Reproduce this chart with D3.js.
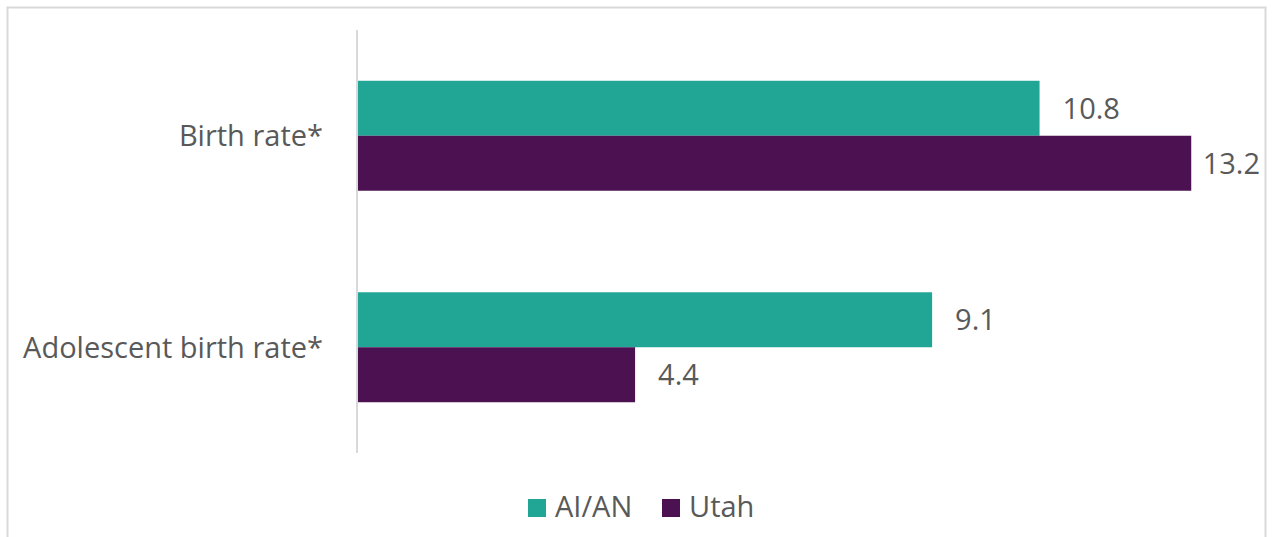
<!DOCTYPE html>
<html><head><meta charset="utf-8">
<script src="https://cdn.jsdelivr.net/npm/d3@7"></script>
<style>html,body{margin:0;padding:0;background:#fff;}svg{display:block;}</style>
</head><body>
<svg id="chart" width="1272" height="537"></svg>
<script>
const categories = ["Birth rate*", "Adolescent birth rate*"];
const seriesNames = ["AI/AN", "Utah"];
const aianValues = [10.8, 9.1];
const utahValues = [13.2, 4.4];
const seriesColors = ["#21A696", "#4B1150"];

const W = 1272, H = 537;
const svg = d3.select("#chart");
const font = "'Open Sans', sans-serif";
const textColor = "#595959";

// outer border (bottom edge lies outside the view)
svg.append("path")
  .attr("d", `M7.5,${H+2} V7.5 H1265.5 V${H+2}`)
  .attr("fill", "none").attr("stroke", "#d9d9d9").attr("stroke-width", 2);

const x = d3.scaleLinear().domain([0, 14]).range([357, 357 + 14 * 63.2]);
const y0 = d3.scaleBand().domain(categories).range([30, 453]).paddingInner(0.48).paddingOuter(0.24);
const y1 = d3.scaleBand().domain(seriesNames).range([0, y0.bandwidth()]);

const rows = categories.map((c, i) => ({cat: c, vals: [aianValues[i], utahValues[i]]}));

const g = svg.append("g");
rows.forEach(r => {
  r.vals.forEach((v, j) => {
    const s = seriesNames[j];
    g.append("rect")
      .attr("x", x(0)).attr("y", y0(r.cat) + y1(s))
      .attr("width", x(v) - x(0)).attr("height", y1.bandwidth())
      .attr("fill", seriesColors[j]);
    const t = g.append("text")
      .attr("y", y0(r.cat) + y1(s) + y1.bandwidth() / 2 + 10.5)
      .attr("font-family", font).attr("font-size", 29).attr("fill", textColor)
      .text(v.toFixed(1));
    t.attr("x", x(v) + 23);
    const w = t.node().getComputedTextLength();
    if (x(v) + 23 + w > 1260) t.attr("x", 1260 - w);
  });
});

// axis line
const yAxis = d3.axisLeft(y0).tickSize(0).tickPadding(34);
const ax = svg.append("g").attr("transform", `translate(${x(0)},0)`).call(yAxis);
ax.select(".domain").attr("stroke", "#d9d9d9").attr("stroke-width", 2).attr("d", "M0,30V453");
ax.selectAll("text").attr("font-family", font).attr("font-size", 29).attr("fill", textColor).attr("dy", "0.36em");

// legend
const legend = svg.append("g");
const lx = [528, 662];
seriesNames.forEach((s, j) => {
  legend.append("rect").attr("x", lx[j]).attr("y", 499).attr("width", 18).attr("height", 18).attr("fill", seriesColors[j]);
  legend.append("text").attr("x", lx[j] + 27).attr("y", 517)
    .attr("font-family", font).attr("font-size", 29).attr("fill", textColor).text(s);
});
</script>
</body></html>
